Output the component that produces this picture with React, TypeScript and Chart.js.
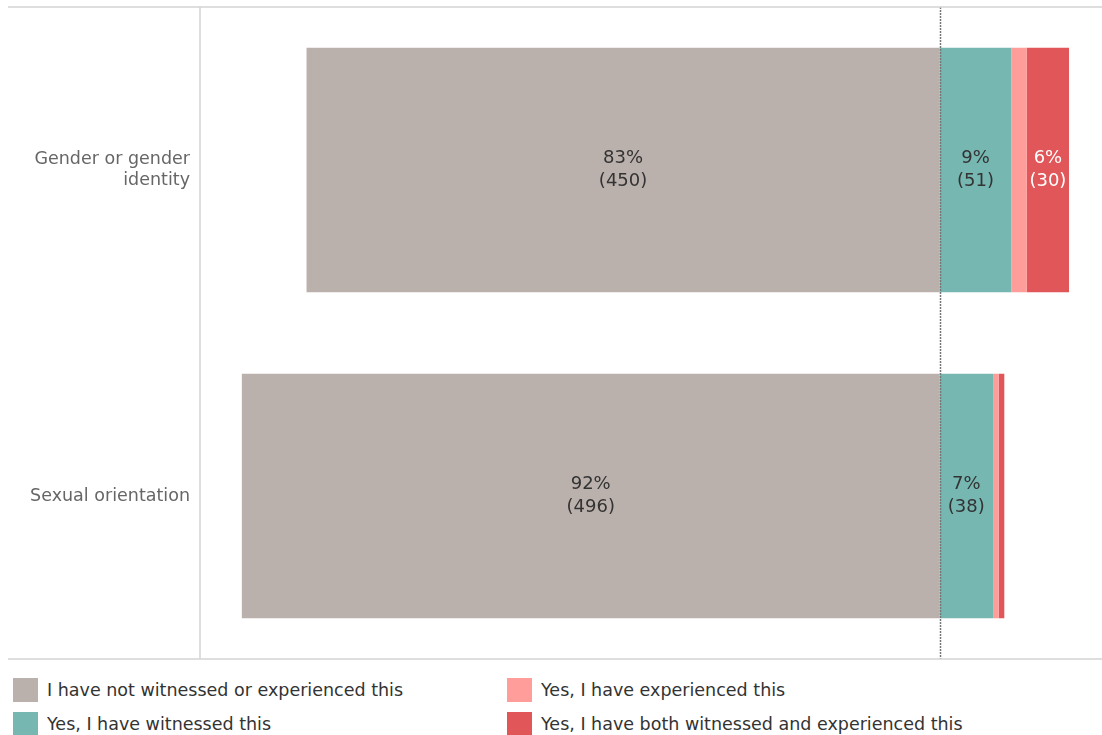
import React, { useEffect, useRef } from 'react';
import { Chart, registerables } from 'chart.js';

Chart.register(...registerables);

const categories: (string | string[])[] = [['Gender or gender', 'identity'], 'Sexual orientation'];
const seriesNames = [
  'I have not witnessed or experienced this',
  'Yes, I have witnessed this',
  'Yes, I have experienced this',
  'Yes, I have both witnessed and experienced this',
];
const notWitnessed = [450, 496];
const witnessed = [51, 38];
const experienced = [11, 4];
const both = [30, 4];
const seriesColors = ['#BAB0AC', '#76B7B2', '#FF9D9A', '#E15759'];
const labelColors = ['#333333', '#333333', '#333333', '#FFFFFF'];
const xMin = -97;
const xMax = 21.3;

const FONT = '"DejaVu Sans", sans-serif';

export default function App() {
  const canvasRef = useRef<HTMLCanvasElement | null>(null);

  useEffect(() => {
    document.body.style.margin = '0';
    const counts = [notWitnessed, witnessed, experienced, both];
    const totals = categories.map((_, i) => counts.reduce((s, arr) => s + arr[i], 0));
    const pct = counts.map((arr, si) => arr.map((v, i) => ((si === 0 ? -1 : 1) * v * 100) / totals[i]));

    const labelPlugin = {
      id: 'segLabels',
      afterDatasetsDraw(chart: any) {
        const ctx = chart.ctx;
        ctx.save();
        chart.data.datasets.forEach((ds: any, di: number) => {
          const meta = chart.getDatasetMeta(di);
          meta.data.forEach((bar: any, i: number) => {
            const p = Math.abs(pct[di][i]);
            if (p < 4) return;
            const cx = (bar.x + bar.base) / 2;
            const cy = bar.y;
            ctx.fillStyle = labelColors[di];
            ctx.font = `18px ${FONT}`;
            ctx.textAlign = 'center';
            ctx.textBaseline = 'middle';
            ctx.fillText(`${Math.round(p)}%`, cx, cy - 11.5);
            ctx.fillText(`(${counts[di][i]})`, cx, cy + 11.5);
          });
        });
        // zero line
        const xs = chart.scales.x;
        const zx = Math.round(xs.getPixelForValue(0)) + 0.5;
        const area = chart.chartArea;
        ctx.strokeStyle = '#777777';
        ctx.lineWidth = 1.5;
        ctx.setLineDash([2, 1]);
        ctx.beginPath();
        ctx.moveTo(zx, area.top);
        ctx.lineTo(zx, area.bottom);
        ctx.stroke();
        ctx.setLineDash([]);
        // borders
        ctx.strokeStyle = '#D4D4D4';
        ctx.lineWidth = 1.5;
        ctx.beginPath();
        ctx.moveTo(8, area.top);
        ctx.lineTo(area.right, area.top);
        ctx.moveTo(8, area.bottom);
        ctx.lineTo(area.right, area.bottom);
        ctx.moveTo(area.left, area.top);
        ctx.lineTo(area.left, area.bottom);
        ctx.stroke();
        ctx.restore();
      },
    };

    const chart = new Chart(canvasRef.current as HTMLCanvasElement, {
      type: 'bar',
      data: {
        labels: categories,
        datasets: seriesNames.map((name, si) => ({
          label: name,
          data: pct[si],
          backgroundColor: seriesColors[si],
          borderWidth: 0,
          stack: 's',
          barPercentage: 0.75,
          categoryPercentage: 1,
        })),
      },
      options: {
        indexAxis: 'y',
        animation: false,
        responsive: true,
        maintainAspectRatio: false,
        layout: { padding: { top: 7, bottom: 6, left: 0, right: 0 } },
        plugins: {
          legend: { display: false },
          tooltip: { enabled: false },
        },
        scales: {
          x: {
            display: false,
            stacked: true,
            min: xMin,
            max: xMax,
          },
          y: {
            stacked: true,
            grid: { display: false, drawTicks: false },
            border: { display: false },
            ticks: {
              color: '#666666',
              font: { family: FONT, size: 17.5 },
              padding: 10,
            },
            afterFit: (scale: any) => {
              scale.width = 200;
              scale.paddingTop = 0;
              scale.paddingBottom = 0;
            },
          },
        },
      },
      plugins: [labelPlugin],
    });
    return () => chart.destroy();
  }, []);

  const legendOrder = [
    [0, 1],
    [2, 3],
  ];

  return (
    <div style={{ position: 'relative', width: 1102, height: 735, fontFamily: FONT, overflow: 'hidden' }}>
      <div style={{ position: 'absolute', left: 0, top: 0, width: 1102, height: 665 }}>
        <canvas ref={canvasRef} />
      </div>
      {legendOrder.map((col, ci) => (
        <div key={ci} style={{ position: 'absolute', left: ci === 0 ? 13 : 507, top: 678 }}>
          {col.map((si) => (
            <div key={si} style={{ display: 'flex', alignItems: 'center', height: 24, marginBottom: 10 }}>
              <div style={{ width: 25, height: 24, background: seriesColors[si], flex: '0 0 auto' }} />
              <span style={{ marginLeft: 9, fontSize: 17.5, color: '#333333', whiteSpace: 'nowrap' }}>{seriesNames[si]}</span>
            </div>
          ))}
        </div>
      ))}
    </div>
  );
}
